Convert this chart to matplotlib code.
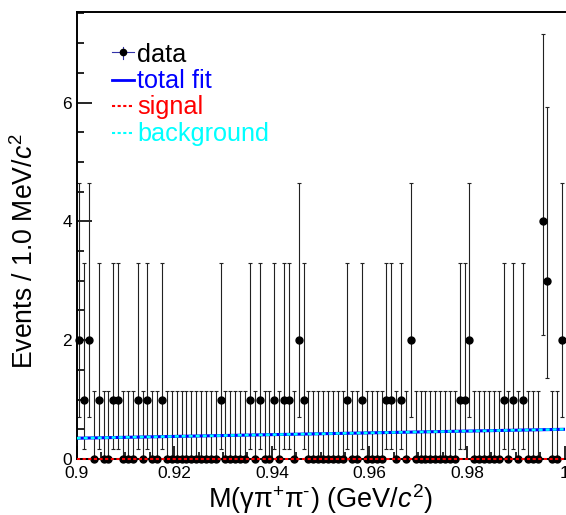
import numpy as np
import matplotlib
matplotlib.use('Agg')
import matplotlib.pyplot as plt
from matplotlib.ticker import MultipleLocator

plt.rcParams['font.family'] = ['Liberation Sans', 'DejaVu Sans']
plt.rcParams['mathtext.fontset'] = 'custom'
plt.rcParams['mathtext.rm'] = 'Liberation Sans'
plt.rcParams['mathtext.it'] = 'Liberation Sans:italic'

# events per 1 MeV bin, M(gamma pi+ pi-) 0.900 -> 1.000 GeV/c^2
counts = [2, 1, 2, 0, 1, 0, 0, 1, 1, 0,   0, 0, 1, 0, 1, 0, 0, 1, 0, 0,
          0, 0, 0, 0, 0, 0, 0, 0, 0, 1,   0, 0, 0, 0, 0, 1, 0, 1, 0, 0,
          1, 0, 1, 1, 0, 2, 1, 0, 0, 0,   0, 0, 0, 0, 0, 1, 0, 0, 1, 0,
          0, 0, 0, 1, 1, 0, 1, 0, 2, 0,   0, 0, 0, 0, 0, 0, 0, 0, 1, 1,
          2, 0, 0, 0, 0, 0, 0, 1, 0, 1,   0, 1, 0, 0, 0, 4, 3, 0, 0, 2]
mass_lo, mass_hi, bin_w = 0.9, 1.0, 0.001

# poisson 68% interval for n = 0..4 (as ROOT draws them)
pois_lo = [0.0, 0.173, 0.709, 1.367, 2.086]
pois_hi = [1.148, 3.300, 4.638, 5.918, 7.163]

# fit curves (linear)
fit_mass = [0.9, 1.0]
total_fit = [0.35, 0.50]
background = [0.35, 0.50]
signal = [0.0, 0.0]

xticks = [0.9, 0.92, 0.94, 0.96, 0.98, 1.0]
xtick_labels = ['0.9', '0.92', '0.94', '0.96', '0.98', '1']
yticks = [0, 2, 4, 6]

W, H = 566, 515
fig = plt.figure(figsize=(W / 100, H / 100), dpi=100)
ax = fig.add_axes([76.7 / W, 56 / H, 487.8 / W, 446.7 / H])

n = np.array(counts)
centers = mass_lo + bin_w * (np.arange(len(n)) + 0.5)
lo = n - np.array(pois_lo)[n]
hi = np.array(pois_hi)[n] - n

ax.errorbar(centers, n, yerr=[lo, hi], fmt='o', color='black', ms=5,
            ecolor='#222222', elinewidth=0.8, capsize=1.3, capthick=0.8,
            clip_on=False, zorder=2)
ax.plot(fit_mass, total_fit, color='#0000ff', lw=2.2, zorder=3)
ax.plot(fit_mass, background, color='#00ffff', lw=1.8, ls=(0, (1.6, 1.2)), zorder=4)
ax.plot(fit_mass, signal, color='#ff0000', lw=1.5, ls=(0, (1.5, 1.2)), zorder=5,
        clip_on=False)

ax.set_xlim(mass_lo, mass_hi)
ax.set_ylim(0, 7.52)
ax.set_xticks(xticks)
ax.set_xticklabels(xtick_labels)
ax.set_yticks(yticks)
ax.xaxis.set_minor_locator(MultipleLocator(0.005))
ax.yaxis.set_minor_locator(MultipleLocator(0.5))
ax.tick_params(axis='both', which='both', direction='in', width=1.2,
               labelsize=12.5)
ax.tick_params(axis='x', which='major', length=9.4, pad=5)
ax.tick_params(axis='x', which='minor', length=4.7)
ax.tick_params(axis='y', which='major', length=10.8, pad=3.5)
ax.tick_params(axis='y', which='minor', length=5.2)
for s in ['left', 'top', 'bottom']:
    ax.spines[s].set_linewidth(1.4)
ax.spines['right'].set_visible(False)

# axis titles
fig.text(320 / W, 1 - 508 / H, 'M(γπ$^{+}$π$^{\u2010}$) (GeV/$c^{2}$)',
         ha='center', va='baseline', fontsize=19.5)
fig.text(33.3 / W, 1 - 251 / H, r'Events / 1.0 MeV/$c^{2}$', rotation=90,
         rotation_mode='anchor', ha='center', va='baseline', fontsize=19.2)

# legend
lx0, lx1, tx = 111.5, 133.5, 137
def px(x, y):
    return x / W, 1 - y / H

leg_rows = [('data', 'black', 61.5),
            ('total fit', '#0000ff', 88.0),
            ('signal', '#ff0000', 114.3),
            ('background', '#00ffff', 140.6)]
for label, col, by in leg_rows:
    fig.text(*px(tx, by), label, color=col, fontsize=18.2, ha='left', va='baseline')

(a, b), (c, d) = px(lx0, 52.3), px(lx1, 52.3)
fig.add_artist(plt.Line2D([a, c], [b, d], color='#3333aa', lw=0.8))
xm = (lx0 + lx1) / 2
fig.add_artist(plt.Line2D([xm / W, xm / W], [1 - 46.5 / H, 1 - 58.5 / H],
                          color='#3333aa', lw=0.8))
fig.add_artist(plt.Line2D([xm / W], [1 - 52.3 / H], marker='o', ms=4.5,
                          color='black', ls='none'))
fig.add_artist(plt.Line2D([lx0 / W, lx1 / W], [1 - 80 / H] * 2, color='#0000ff', lw=2.0))
fig.add_artist(plt.Line2D([lx0 / W, lx1 / W], [1 - 106 / H] * 2, color='#ff0000',
                          lw=1.5, ls=(0, (1.5, 1.2))))
fig.add_artist(plt.Line2D([lx0 / W, lx1 / W], [1 - 133 / H] * 2, color='#00ffff',
                          lw=1.5, ls=(0, (1.5, 1.2))))

fig.savefig('out.png', dpi=100)
